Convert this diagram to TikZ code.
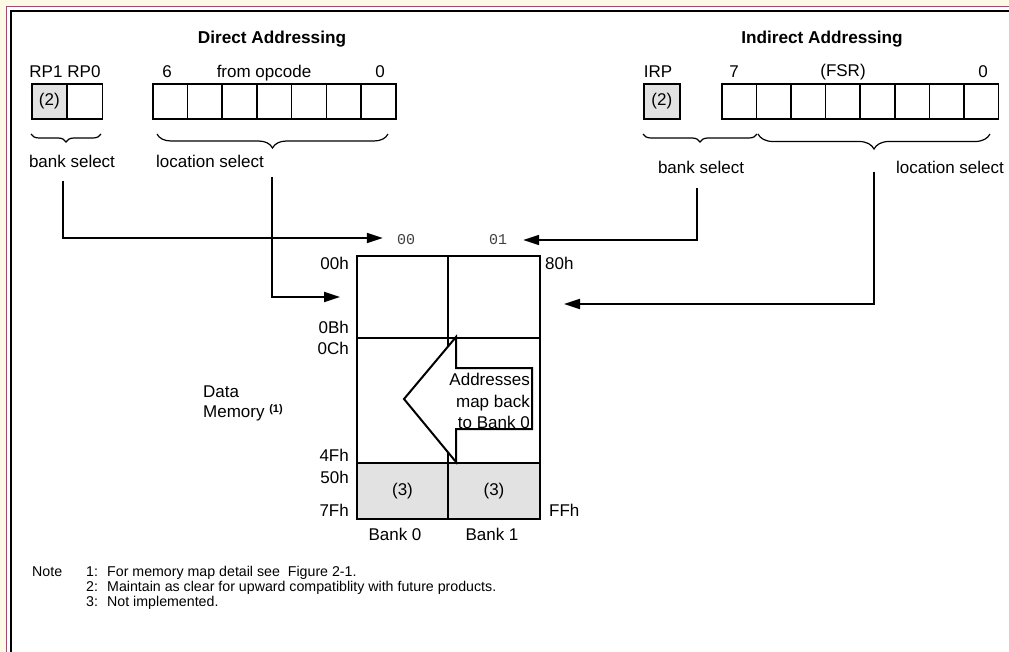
\documentclass[tikz,border=0pt]{standalone}
\usepackage{fontspec}
\setmainfont{Liberation Sans}
\setmonofont{Liberation Mono}
\usetikzlibrary{arrows.meta,decorations.pathreplacing}
\definecolor{creme}{RGB}{252,250,228}
\definecolor{bordeaux}{RGB}{164,72,118}
\definecolor{grisclair}{RGB}{226,226,226}

\begin{document}
\begin{tikzpicture}[x=1pt,y=-1pt]
\tikzset{
	texte/.style={inner sep=0pt,font=\fontsize{17}{20}\selectfont},
	titre/.style={inner sep=0pt,font=\fontsize{17.2}{20}\selectfont\bfseries},
	mono/.style={inner sep=0pt,text=black!75,font=\fontsize{15}{18}\ttfamily},
	case/.style={draw,line width=1.6pt,minimum width=34.7pt,minimum height=35pt,
		inner sep=0pt,anchor=north west,font=\fontsize{17}{20}\selectfont},
	zone/.style={draw,line width=2pt,minimum width=91pt,inner sep=0pt,anchor=north west,
		font=\fontsize{17}{20}\selectfont},
	fleche/.style={line width=2pt,-{Triangle[length=16pt,width=10pt]}},
	accolade/.style={decorate,decoration={brace,amplitude=#1},line width=1.2pt},
}

 % fond et cadre
  \useasboundingbox (0,0) rectangle (1009,652);
  \fill[creme] (0,0) rectangle (1009,652);
  \fill[white] (6.7,6.7) rectangle (1009,652);
  \draw[bordeaux,line width=1.3pt] (6.7,652) -- (6.7,6.7) -- (1009,6.7);
  \draw[line width=2.3pt] (11.2,652) -- (11.2,11.2) -- (1009,11.2);

 % adressage direct
  \node[titre] (titreD) at (272,39) {Direct Addressing};
  \node[texte] (nrp1) at (46,72) {RP1};
  \node[texte] (nrp0) at (84,72) {RP0};
  \node[texte] (bit6) at (167,72) {6};
  \node[texte] (opcode) at (264,73) {from opcode};
  \node[texte] (bit0D) at (380,72) {0};
  \node[case,fill=grisclair,minimum width=35pt] (rp1) at (31,83) {(2)};
  \node[case,minimum width=35pt] (rp0) at (66.5,83) {};
  \foreach \i in {0,...,6}
    \node[case] (op\i) at (152+34.71*\i,83) {};
  \draw[accolade=8pt] (101,134) -- (31,134);
  \draw[accolade=14pt] (388,134) -- (157,134);
  \node[texte] (bselD) at (72,161) {bank select};
  \node[texte] (lselD) at (210,161) {location select};

 % adressage indirect
  \node[titre] (titreI) at (822,39) {Indirect Addressing};
  \node[texte] (nirp) at (658,72) {IRP};
  \node[texte] (bit7) at (734,72) {7};
  \node[texte] (fsr) at (843,72) {(FSR)};
  \node[texte] (bit0I) at (983,72) {0};
  \node[case,fill=grisclair,minimum width=36pt] (irp) at (643,83) {(2)};
  \foreach \i in {0,...,7}
    \node[case,minimum width=34.6pt] (fsr\i) at (721+34.6*\i,83) {};
  \draw[accolade=8pt] (757,134) -- (643,134);
  \draw[accolade=15pt] (990,134) -- (758,134);
  \node[texte] (bselI) at (701,167) {bank select};
  \node[texte] (lselI) at (950,167) {location select};

 % la mémoire
  \node[zone,minimum height=82pt] (m0a) at (356,255) {};
  \node[zone,minimum height=82pt,minimum width=92pt] (m1a) at (447,255) {};
  \node[zone,minimum height=125pt] (m0b) at (356,337) {};
  \node[zone,minimum height=125pt,minimum width=92pt] (m1b) at (447,337) {};
  \node[zone,minimum height=56pt,fill=grisclair] (m0c) at (356,462) {(3)};
  \node[zone,minimum height=56pt,minimum width=92pt,fill=grisclair] (m1c) at (447,462) {(3)};
  \draw[line width=2pt,fill=white] (456,337) -- (404,399) -- (456,462) -- (456,429)
    -- (532,429) -- (532,368) -- (456,368) -- cycle;
  \node[texte,align=right,anchor=east,font=\fontsize{17}{21.5}\selectfont] (retour) at (530,401)
    {Addresses\\map back\\to Bank 0};

  \node[texte,anchor=east] (a00) at (349,263) {00h};
  \node[texte,anchor=east] (a0B) at (349,327) {0Bh};
  \node[texte,anchor=east] (a0C) at (349,348) {0Ch};
  \node[texte,anchor=east] (a4F) at (349,455) {4Fh};
  \node[texte,anchor=east] (a50) at (349,477) {50h};
  \node[texte,anchor=east] (a7F) at (349,510) {7Fh};
  \node[texte,anchor=west] (a80) at (545,263) {80h};
  \node[texte,anchor=west] (aFF) at (549,510) {FFh};
  \node[texte] (bank0) at (395,534) {Bank 0};
  \node[texte] (bank1) at (492,534) {Bank 1};
  \node[texte,anchor=west,align=left] (donnees) at (203,403)
    {Data\\Memory \raisebox{5pt}{\fontsize{11}{11}\selectfont\bfseries (1)}};
  \node[mono] (b00) at (406,240) {00};
  \node[mono] (b01) at (498,240) {01};

 % les flèches
  \coordinate (depBD) at (63,181);
  \coordinate (depLD) at (272,177);
  \coordinate (depBI) at (697,188);
  \coordinate (depLI) at (874,172);
  \draw[fleche] (depBD) |- ([xshift=-14pt,yshift=2pt]b00.west);
  \draw[fleche] (depLD) |- ([xshift=-16pt]m0a.west);
  \draw[fleche] (depBI) |- ([xshift=16pt]b01.east);
  \draw[fleche] (depLI) |- ([xshift=23pt,yshift=-7pt]m1a.east);

 % les notes
  \node[anchor=west,inner sep=0pt,font=\fontsize{14.2}{15}\selectfont] (notes) at (32,588)
    {\begin{tabular}{@{}p{54pt}@{}p{21pt}@{}l@{}}
      Note & 1: & For memory map detail see\ \ Figure 2-1.\\
           & 2: & Maintain as clear for upward compatiblity with future products.\\
           & 3: & Not implemented.
    \end{tabular}};
\end{tikzpicture}
\end{document}
